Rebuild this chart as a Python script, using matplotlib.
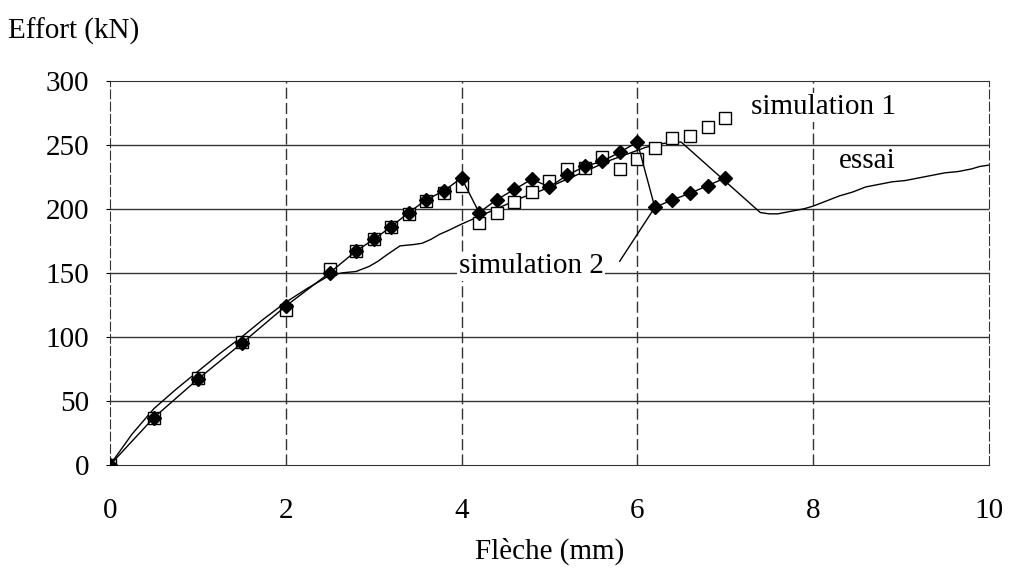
import matplotlib
matplotlib.use("Agg")
import matplotlib.pyplot as plt

plt.rcParams['font.family'] = ['Liberation Serif', 'DejaVu Serif']

# essai (courbe expérimentale)
essai_x = [0, 0.25, 0.5, 0.75, 1.0, 1.25, 1.5, 1.75, 2.0, 2.25, 2.5, 2.65, 2.8, 2.95,
           3.05, 3.15, 3.3, 3.45, 3.55, 3.65, 3.75, 3.85, 4.0, 4.1, 4.3, 4.5, 4.7,
           4.9, 5.1, 5.3, 5.5, 5.7, 5.9, 6.1, 6.3, 6.5, 7.4, 7.5, 7.6, 7.75, 7.9,
           8.0, 8.15, 8.3, 8.45, 8.6, 8.75, 8.9, 9.05, 9.2, 9.35, 9.5, 9.65, 9.8,
           9.9, 10.0]
essai_y = [0, 24, 44, 59, 73, 87, 100, 114, 127, 138, 148, 150, 151, 155,
           159, 164, 171, 172, 173, 176, 180, 183, 188, 191, 197, 203, 209,
           214, 220, 226, 232, 238, 243, 248, 251, 252, 197, 196, 196, 198, 200,
           202, 206, 210, 213, 217, 219, 221, 222, 224, 226, 228, 229, 231,
           233, 234]

# simulation 1 (carrés)
sim1_x = [0, 0.5, 1.0, 1.5, 2.0, 2.5, 2.8, 3.0, 3.2, 3.4, 3.6, 3.8, 4.0, 4.2,
          4.4, 4.6, 4.8, 5.0, 5.2, 5.4, 5.6, 5.8, 6.0, 6.2, 6.4, 6.6, 6.8, 7.0]
sim1_y = [0, 37, 68, 96, 121, 153, 167, 176, 186, 196, 206, 212, 218, 189,
          197, 205, 213, 222, 231, 232, 240, 231, 239, 247, 255, 257, 264, 271]

# simulation 2 (losanges)
sim2_x = [0, 0.5, 1.0, 1.5, 2.0, 2.5, 2.8, 3.0, 3.2, 3.4, 3.6, 3.8, 4.0, 4.2,
          4.4, 4.6, 4.8, 5.0, 5.2, 5.4, 5.6, 5.8, 6.0, 6.2, 6.4, 6.6, 6.8, 7.0]
sim2_y = [0, 37, 67, 95, 124, 150, 167, 176, 186, 197, 207, 214, 224, 197,
          207, 215, 223, 217, 226, 233, 237, 244, 252, 201, 207, 212, 218, 224]

xticks = [0, 2, 4, 6, 8, 10]
yticks = [0, 50, 100, 150, 200, 250, 300]

fig = plt.figure(figsize=(10.09, 5.86), dpi=100)
ax = fig.add_axes([0.109, 0.2065, 0.871, 0.656])

# grille
for yv in yticks[1:-1]:
    ax.axhline(yv, color='#333333', lw=1.0, zorder=0)
for xv in xticks[1:-1]:
    ax.axvline(xv, color='#333333', lw=1.0, ls=(0, (8, 3)), zorder=0)

ax.plot(essai_x, essai_y, color='black', lw=1.0, zorder=2)
ax.plot(sim1_x, sim1_y, ls='none', marker='s', ms=9, mfc='white', mec='black',
        mew=1.0, zorder=3)
ax.plot(sim2_x, sim2_y, color='black', lw=1.0, marker='D', ms=7.5, mfc='black',
        mec='black', zorder=4)

ax.set_xlim(0, 10)
ax.set_ylim(0, 300)
ax.set_xticks(xticks)
ax.set_yticks(yticks)
ax.tick_params(axis='y', length=3, direction='out', pad=12, labelsize=21)
ax.tick_params(axis='x', length=0, pad=24, labelsize=21)

for side in ['left', 'right']:
    ax.spines[side].set_linestyle((0, (8, 3)))
    ax.spines[side].set_color('#333333')
for side in ['top', 'bottom']:
    ax.spines[side].set_color('#333333')

box = dict(facecolor='white', edgecolor='none', pad=1)
ax.text(7.29, 279, 'simulation 1', fontsize=21, ha='left', va='center', bbox=box, zorder=5)
ax.text(8.62, 237, 'essai', fontsize=21, ha='center', va='center', bbox=box, zorder=5)
ax.text(4.79, 155, 'simulation 2', fontsize=21, ha='center', va='center', bbox=box, zorder=5)
ax.plot([5.80, 6.18], [159, 199], color='black', lw=1.0, zorder=5)

fig.text(8 / 1009, 1 - 31 / 586, 'Effort (kN)', fontsize=21, ha='left', va='center')
fig.text(549.5 / 1009, 1 - 551 / 586, 'Flèche (mm)', fontsize=21, ha='center', va='center')

fig.savefig('out.png', dpi=100)
